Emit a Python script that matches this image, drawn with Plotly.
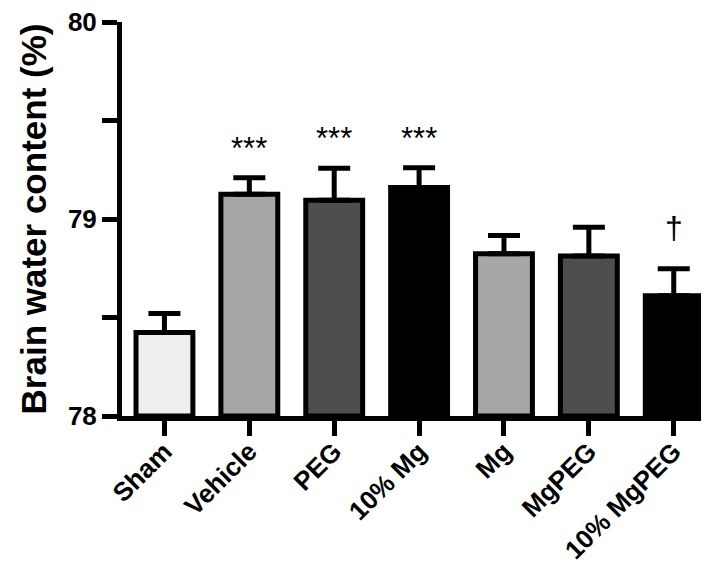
import plotly.graph_objects as go

categories = ["Sham", "Vehicle", "PEG", "10% Mg", "Mg", "MgPEG", "10% MgPEG"]
means = [78.424, 79.126, 79.095, 79.16, 78.823, 78.812, 78.61]
sem_upper = [0.096, 0.084, 0.163, 0.10, 0.093, 0.146, 0.137]
bar_colors = ["#efefef", "#a6a6a6", "#4e4e4e", "#000000", "#a6a6a6", "#4e4e4e", "#000000"]
marks = ["", "***", "***", "***", "", "", "†"]
y_ticks = [78, 78.5, 79, 79.5, 80]
y_tick_text = ["78", "", "79", "", "80"]

FONT = "Liberation Sans, Arial, sans-serif"

fig = go.Figure()
fig.add_trace(go.Bar(
    x=list(range(len(categories))),
    y=[m - 78 for m in means],
    base=78,
    width=0.67,
    marker=dict(color=bar_colors, line=dict(color="black", width=5)),
    error_y=dict(type="data", symmetric=False, array=sem_upper,
                 arrayminus=[0] * len(categories), color="black",
                 thickness=5, width=16),
    showlegend=False,
))

for i, (m, e, t) in enumerate(zip(means, sem_upper, marks)):
    if t:
        dag = t == "†"
        fig.add_annotation(x=i, y=m + e, text=t, showarrow=False,
                           xref="x", yref="y", yanchor="bottom",
                           yshift=21 if dag else 10,
                           font=dict(family=FONT, size=32 if dag else 31,
                                     color="black"))

fig.update_layout(
    width=709, height=564,
    margin=dict(l=114, r=11, t=14, b=156, autoexpand=False),
    paper_bgcolor="white", plot_bgcolor="white",
    font=dict(family=FONT, color="black"),
)
fig.update_xaxes(
    range=[-0.5, 6.38], automargin=False,
    tickmode="array", tickvals=list(range(len(categories))), ticktext=categories,
    tickangle=-45,
    tickfont=dict(family=FONT, size=26, weight="bold", color="black"),
    ticklabelstandoff=-10,
    showline=True, linecolor="black", linewidth=5,
    ticks="outside", ticklen=15, tickwidth=5, tickcolor="black",
    showgrid=False, zeroline=False,
)
fig.update_yaxes(
    range=[78, 80], automargin=False,
    tickmode="array", tickvals=y_ticks, ticktext=y_tick_text,
    tickfont=dict(family=FONT, size=26, weight="bold", color="black"),
    ticklabeloverflow="allow",
    showline=True, linecolor="black", linewidth=5,
    ticks="outside", ticklen=15, tickwidth=5, tickcolor="black",
    showgrid=False, zeroline=False,
    title=dict(text="Brain water content (%)", standoff=12,
               font=dict(family=FONT, size=35, weight="bold", color="black")),
)

fig.write_html("out.html")
